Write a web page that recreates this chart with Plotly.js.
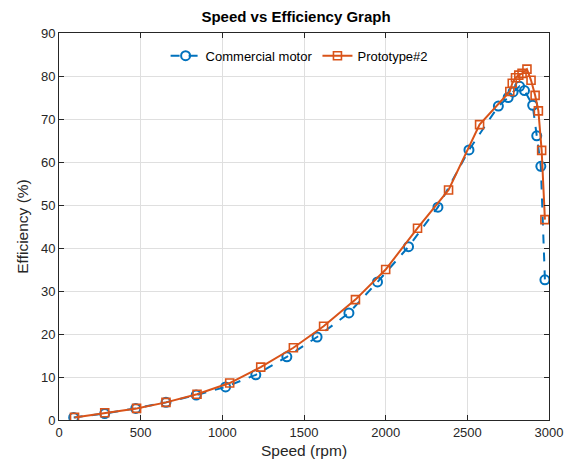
<!DOCTYPE html>
<html>
<head>
<meta charset="utf-8">
<script src="https://cdn.plot.ly/plotly-3.0.1.min.js"></script>
<style>html,body{margin:0;padding:0;background:#fff;}#chart{width:566px;height:465px;}</style>
</head>
<body>
<div id="chart"></div>
<script>
const commercialSpeed = [90, 280, 470, 655, 840, 1020, 1205, 1395, 1580, 1775, 1950, 2140, 2320, 2510, 2690, 2750, 2780, 2820, 2850, 2900, 2925, 2950, 2975];
const commercialEff   = [0.6, 1.5, 2.7, 4.1, 5.8, 7.7, 10.5, 14.7, 19.3, 24.9, 32.1, 40.3, 49.5, 62.8, 73.0, 75.0, 76.3, 77.6, 76.6, 73.2, 66.1, 59.0, 32.6];
const protoSpeed = [95, 280, 475, 655, 845, 1045, 1235, 1435, 1620, 1815, 2000, 2195, 2385, 2575, 2760, 2775, 2795, 2815, 2835, 2865, 2890, 2915, 2935, 2955, 2975];
const protoEff   = [0.6, 1.7, 2.7, 4.1, 6.0, 8.6, 12.3, 16.8, 21.8, 28.0, 35.0, 44.6, 53.5, 68.7, 76.4, 78.3, 79.6, 80.2, 80.6, 81.6, 79.0, 75.5, 71.9, 62.7, 46.6];
const seriesNames = ['Commercial motor', 'Prototype#2'];

const font = 'Liberation Sans, Arial, sans-serif';
const traces = [
  {x: commercialSpeed, y: commercialEff, name: seriesNames[0], type: 'scatter', mode: 'lines+markers',
   line: {color: '#0072BD', width: 2, dash: 'dash'},
   marker: {symbol: 'circle-open', size: 9, color: '#0072BD', line: {width: 2}}},
  {x: protoSpeed, y: protoEff, name: seriesNames[1], type: 'scatter', mode: 'lines+markers',
   line: {color: '#D95319', width: 2},
   marker: {symbol: 'square-open', size: 8, color: '#D95319', line: {width: 1.6}}}
];
const axisCommon = {
  showline: true, linecolor: '#262626', linewidth: 1, mirror: 'ticks',
  ticks: 'inside', ticklen: 5, tickcolor: '#262626',
  showgrid: true, gridcolor: '#dfdfdf', gridwidth: 1, zeroline: false,
  tickfont: {family: font, size: 13, color: '#262626'}
};
const layout = {
  width: 566, height: 465,
  margin: {l: 59, r: 17, t: 33, b: 45},
  paper_bgcolor: '#fff', plot_bgcolor: '#fff',
  title: {text: '<b>Speed vs Efficiency Graph</b>', font: {family: font, size: 15, color: '#000'}, x: 0.523, xanchor: 'center', y: 0.975, yanchor: 'top'},
  xaxis: Object.assign({}, axisCommon, {range: [0, 3000], dtick: 500, tick0: 0,
    title: {text: 'Speed (rpm)', font: {family: font, size: 15.5, color: '#262626'}, standoff: 6}}),
  yaxis: Object.assign({}, axisCommon, {range: [0, 90], dtick: 10, tick0: 0,
    title: {text: 'Efficiency (%)', font: {family: font, size: 15.5, color: '#262626'}, standoff: 8}}),
  legend: {orientation: 'h', x: 0.49, xanchor: 'center', y: 0.98, yanchor: 'top',
    bgcolor: 'rgba(255,255,255,0)', borderwidth: 0, font: {family: font, size: 13, color: '#000'}},
  showlegend: true
};
Plotly.newPlot('chart', traces, layout, {displayModeBar: false, staticPlot: true});
</script>
</body>
</html>
